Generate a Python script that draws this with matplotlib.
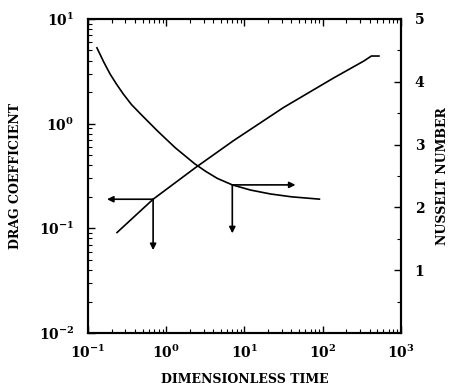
import matplotlib
matplotlib.use("Agg")
import matplotlib.pyplot as plt
from matplotlib.ticker import LogLocator, NullFormatter, MultipleLocator

# Drag coefficient curve (left axis, log)
drag_t = [0.13, 0.16, 0.191, 0.23, 0.281, 0.36, 0.464, 0.6, 0.767, 1.0, 1.3, 1.7,
          2.3, 3.2, 4.5, 7.0, 12, 21.5, 40, 91]
drag_cd = [5.30, 3.84, 2.99, 2.40, 1.93, 1.52, 1.25, 1.03, 0.857, 0.71, 0.59, 0.50,
           0.415, 0.35, 0.30, 0.26, 0.232, 0.213, 0.200, 0.19]

# Nusselt number curve (right axis, linear)
nu_t = [0.235, 0.68, 2.35, 7.2, 31.6, 138, 336, 420, 525]
nu_val = [1.60, 2.13, 2.63, 3.06, 3.59, 4.06, 4.33, 4.41, 4.41]

# Arrow annotations: (start x, start y, end x, end y)
nu_arrows = [(0.68, 2.13, 0.175, 2.13), (0.68, 2.13, 0.68, 1.32)]
drag_arrows = [(7.0, 0.26, 45, 0.26), (7.0, 0.26, 7.0, 0.0896)]

x_ticks = [0.1, 1, 10, 100, 1000]
x_labels = ["$\\mathbf{10^{-1}}$", "$\\mathbf{10^{0}}$", "$\\mathbf{10^{1}}$", "$\\mathbf{10^{2}}$", "$\\mathbf{10^{3}}$"]
y_ticks = [0.01, 0.1, 1, 10]
y_labels = ["$\\mathbf{10^{-2}}$", "$\\mathbf{10^{-1}}$", "$\\mathbf{10^{0}}$", "$\\mathbf{10^{1}}$"]
nu_ticks = [1, 2, 3, 4, 5]

plt.rcParams['font.family'] = ['DejaVu Serif']
plt.rcParams['mathtext.fontset'] = 'dejavuserif'

fig = plt.figure(figsize=(4.56, 3.87), dpi=100)
ax = fig.add_axes([0.193, 0.1395, 0.686, 0.8115])
ax2 = ax.twinx()

ax.set_xscale('log')
ax.set_yscale('log')
ax.set_xlim(0.1, 1000)
ax.set_ylim(0.01, 10)
ax2.set_ylim(0, 5)

ax.plot(drag_t, drag_cd, color='black', lw=1.2)
ax2.plot(nu_t, nu_val, color='black', lw=1.2)

for (x0, y0, x1, y1) in nu_arrows:
    ax2.annotate('', xy=(x1, y1), xytext=(x0, y0),
                 arrowprops=dict(arrowstyle='-|>', color='black', lw=1.2,
                                 mutation_scale=9, shrinkA=0, shrinkB=0))
for (x0, y0, x1, y1) in drag_arrows:
    ax.annotate('', xy=(x1, y1), xytext=(x0, y0),
                arrowprops=dict(arrowstyle='-|>', color='black', lw=1.2,
                                mutation_scale=9, shrinkA=0, shrinkB=0))

ax.set_xticks(x_ticks)
ax.set_xticklabels(x_labels, fontsize=10)
ax.set_yticks(y_ticks)
ax.set_yticklabels(y_labels, fontsize=10)
ax.xaxis.set_minor_locator(LogLocator(base=10, subs=range(2, 10)))
ax.yaxis.set_minor_locator(LogLocator(base=10, subs=range(2, 10)))
ax.xaxis.set_minor_formatter(NullFormatter())
ax.yaxis.set_minor_formatter(NullFormatter())
ax.tick_params(axis='x', which='both', direction='in', top=True, bottom=True, pad=8)
ax.tick_params(axis='y', which='both', direction='in', left=True, right=False, pad=10)
ax.tick_params(which='major', length=5, width=1)
ax.tick_params(which='minor', length=3, width=0.8)

ax2.set_yticks(nu_ticks)
ax2.set_yticklabels([str(v) for v in nu_ticks], fontsize=10, fontweight='bold')
ax2.yaxis.set_minor_locator(MultipleLocator(0.5))
ax2.tick_params(axis='y', which='both', direction='in', pad=10)
ax2.tick_params(which='major', length=5, width=1)
ax2.tick_params(which='minor', length=3, width=0.8)

for a in (ax, ax2):
    for s in a.spines.values():
        s.set_linewidth(1.5)

ax.set_xlabel('DIMENSIONLESS TIME', fontsize=9, fontweight='bold', labelpad=8)
ax.set_ylabel('DRAG COEFFICIENT', fontsize=9, fontweight='bold', labelpad=12)
ax2.set_ylabel('NUSSELT NUMBER', fontsize=9, fontweight='bold', labelpad=8)

fig.savefig('out.png', dpi=100)
